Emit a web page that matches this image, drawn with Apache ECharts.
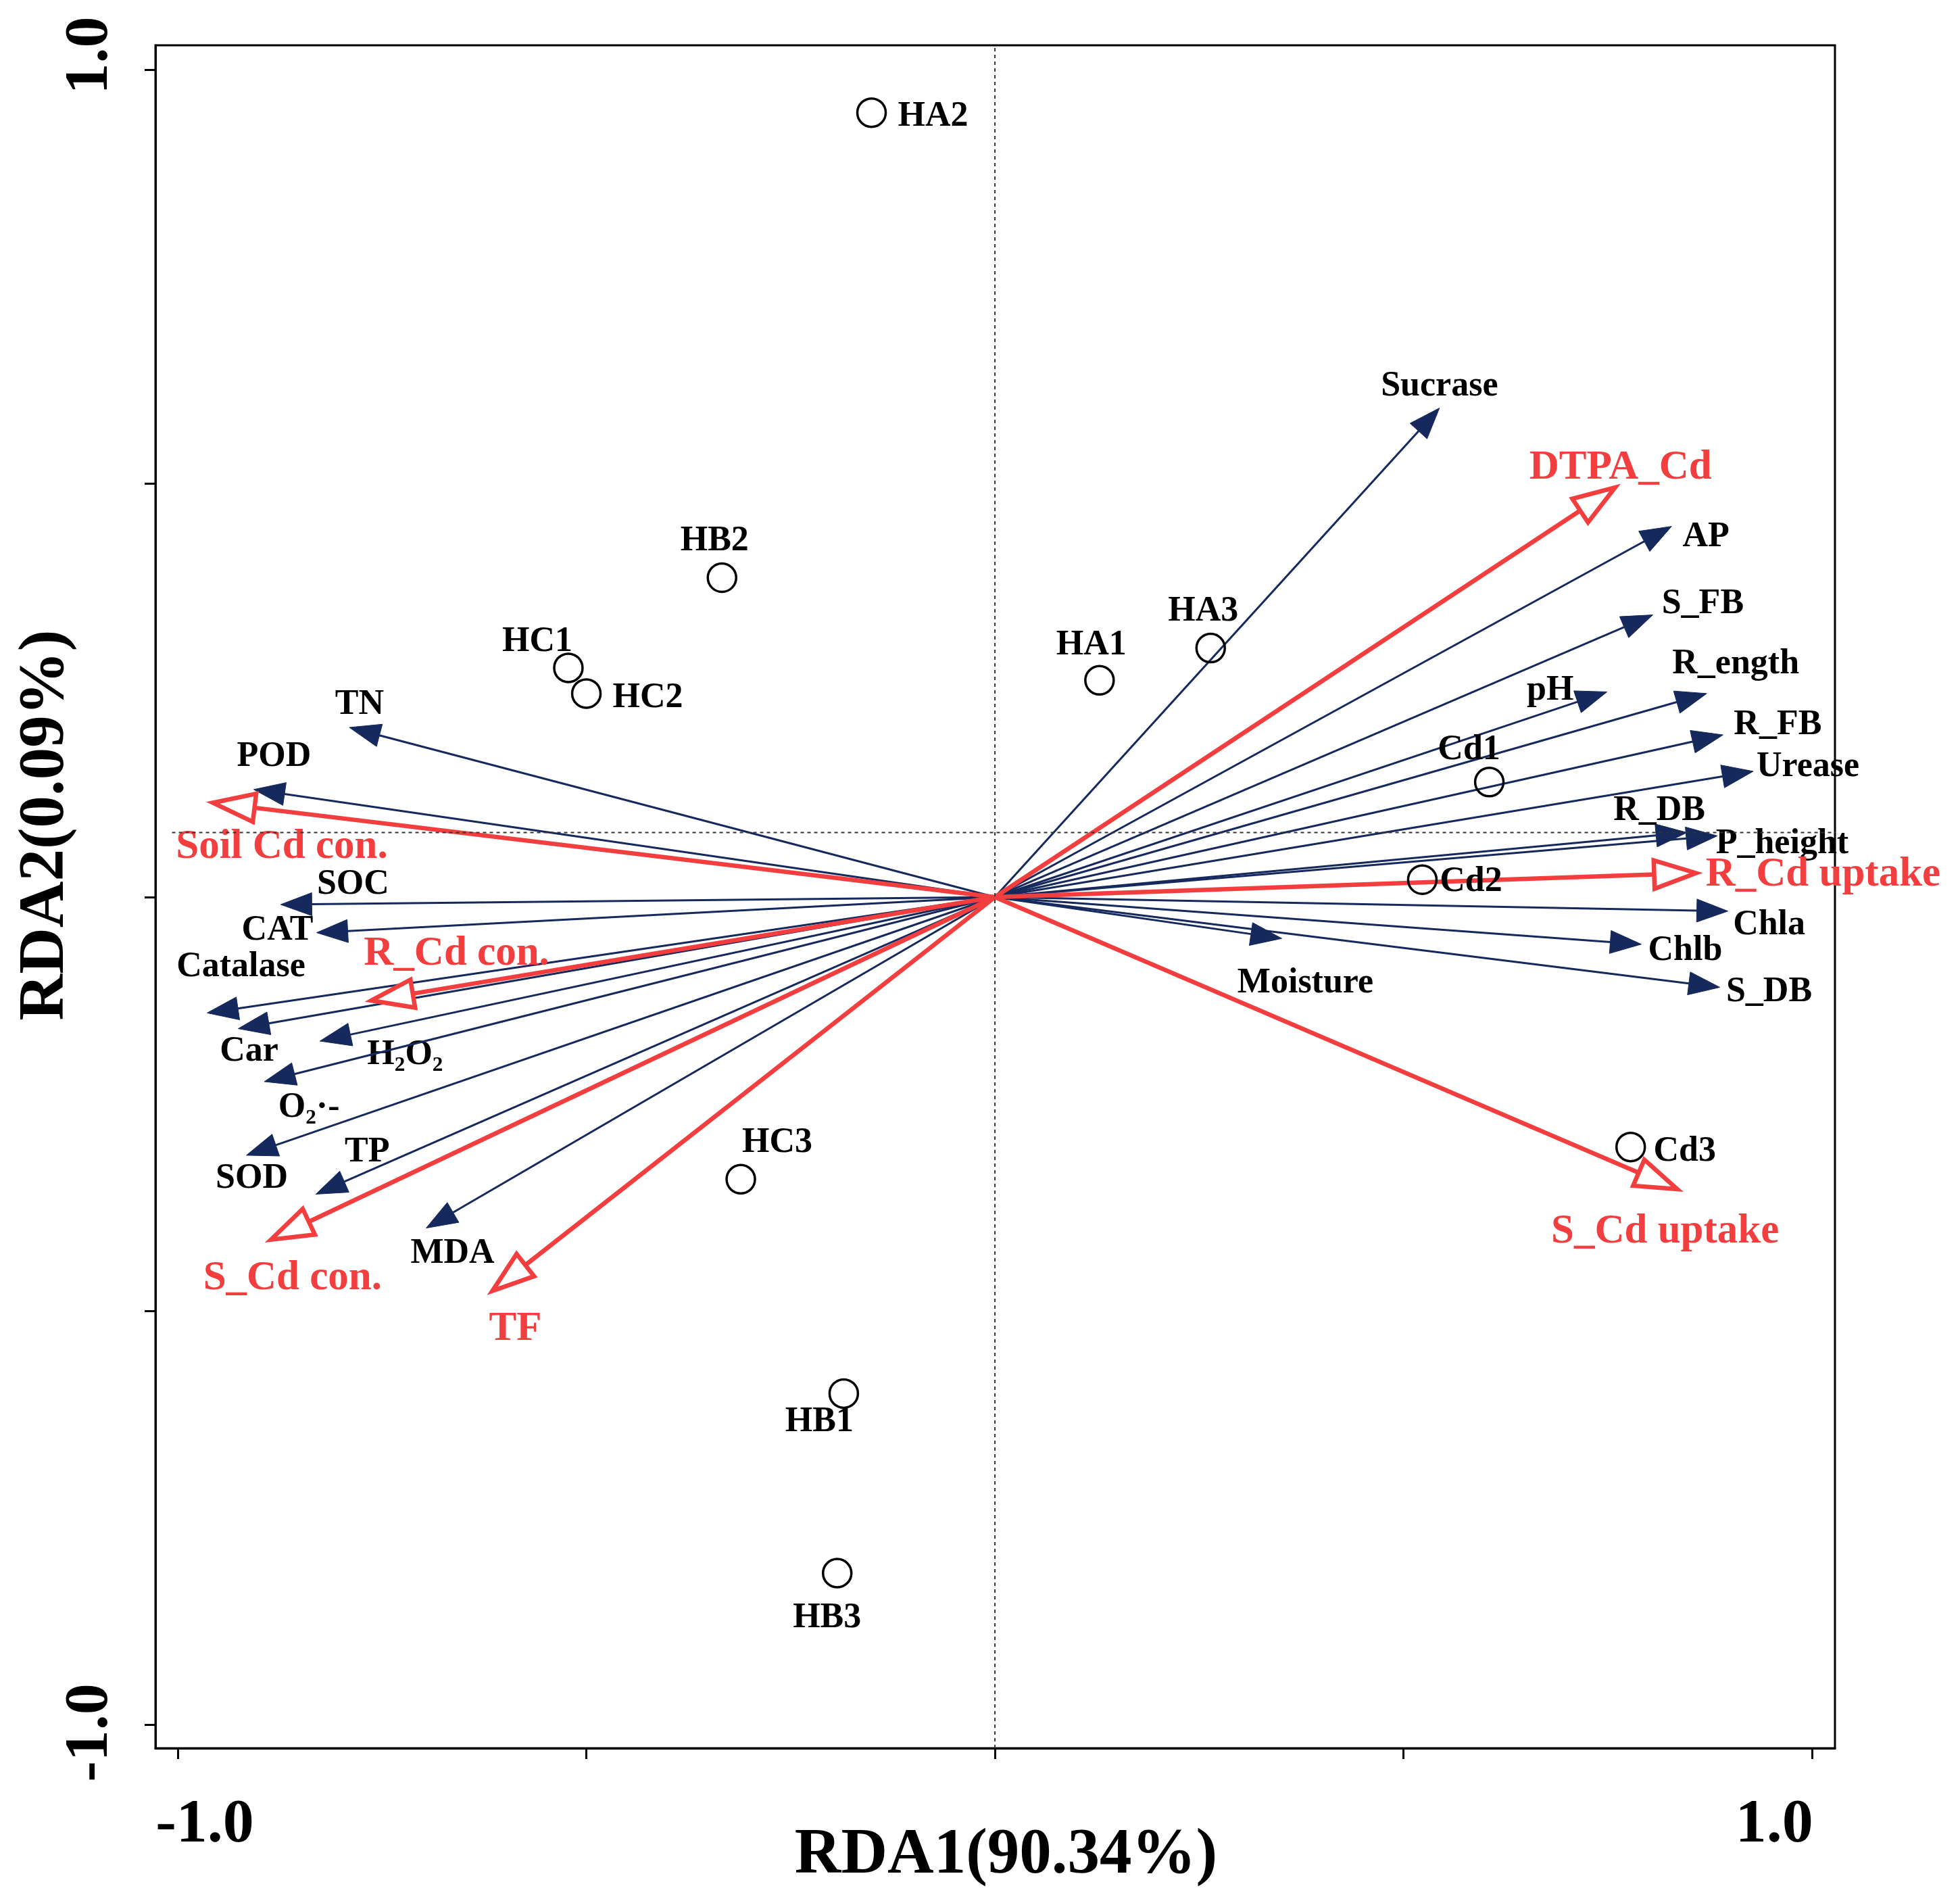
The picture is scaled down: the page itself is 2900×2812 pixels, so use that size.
<!DOCTYPE html>
<html>
<head>
<meta charset="utf-8">
<script src="https://cdn.jsdelivr.net/npm/echarts@6/dist/echarts.min.js"></script>
<style>
  html, body { margin: 0; padding: 0; background: #fff; }
  #chart { width: 2900px; height: 2812px; }
</style>
</head>
<body>
<div id="chart"></div>
<script>
// sites (open circles)
const siteNames = ['HA1', 'HA2', 'HA3', 'HB1', 'HB2', 'HB3', 'HC1', 'HC2', 'HC3', 'Cd1', 'Cd2', 'Cd3'];
const siteX = [0.128, -0.151, 0.264, -0.185, -0.334, -0.193, -0.522, -0.500, -0.311, 0.605, 0.523, 0.778];
const siteY = [0.262, 0.948, 0.301, -0.600, 0.386, -0.817, 0.277, 0.246, -0.341, 0.139, 0.021, -0.302];

// explanatory variables (blue arrows)
const envNames = ['Sucrase', 'AP', 'S_FB', 'pH', 'R_ength', 'R_FB', 'Urease', 'R_DB', 'P_height', 'Chla', 'Chlb', 'S_DB', 'Moisture',
  'TN', 'POD', 'SOC', 'CAT', 'Catalase', 'Car', 'H₂O₂', 'O₂·-', 'SOD', 'TP', 'MDA'];
const envX = [0.544, 0.828, 0.805, 0.749, 0.871, 0.891, 0.928, 0.847, 0.884, 0.897, 0.791, 0.887, 0.351,
  -0.790, -0.907, -0.874, -0.830, -0.964, -0.926, -0.826, -0.894, -0.916, -0.831, -0.696];
const envY = [0.591, 0.448, 0.341, 0.248, 0.246, 0.196, 0.152, 0.078, 0.074, -0.017, -0.057, -0.109, -0.050,
  0.205, 0.130, -0.009, -0.043, -0.140, -0.159, -0.174, -0.223, -0.312, -0.359, -0.400];

// Cd response variables (red arrows)
const cdNames = ['DTPA_Cd', 'R_Cd uptake', 'S_Cd uptake', 'Soil Cd con.', 'R_Cd con.', 'S_Cd con.', 'TF'];
const cdX = [0.759, 0.858, 0.835, -0.957, -0.763, -0.886, -0.615];
const cdY = [0.495, 0.029, -0.353, 0.114, -0.125, -0.414, -0.476];

// axis ticks
const tickValues = [-1, -0.5, 0, 0.5, 1];
const labelValues = [-1, 1];

// label placement (px from the point, text centre)
const siteOffset = {
  HA1: [-12, -52], HA2: [91, 6], HA3: [-11, -54], HB1: [-36, 42], HB2: [-11, -54], HB3: [-15, 67],
  HC1: [-46, -38], HC2: [91, 7], HC3: [54, -54], Cd1: [-30, -47], Cd2: [72, 3], Cd3: [80, 7]
};
const envOffset = {
  'Sucrase': [0, -32], 'AP': [51, 16], 'S_FB': [74, -16], 'pH': [-84, -2], 'R_ength': [43, -43],
  'R_FB': [81, -15], 'Urease': [81, -6], 'R_DB': [-41, -32], 'P_height': [96, 12], 'Chla': [61, 21],
  'Chlb': [65, 10], 'S_DB': [73, 7], 'Moisture': [35, 66], 'TN': [15, -34], 'POD': [30, -48],
  'SOC': [107, -29], 'CAT': [-58, -3], 'Catalase': [50, -68], 'Car': [16, 34], 'H₂O₂': [126, 21],
  'O₂·-': [66, 39], 'SOD': [8, 35], 'TP': [76, -62], 'MDA': [39, 38]
};
const cdOffset = {
  'DTPA_Cd': [8, -29], 'R_Cd uptake': [188, 3], 'S_Cd uptake': [-18, 63], 'Soil Cd con.': [102, 66],
  'R_Cd con.': [126, -69], 'S_Cd con.': [32, 58], 'TF': [34, 57]
};

const FONT = '"Liberation Serif", "Times New Roman", serif';
const BLUE = '#16295c';
const RED = '#f23e3e';
const xMin = -1.0273, xMax = 1.028, yMin = -1.0286, yMax = 1.0294;
const hLineY = 0.078;

// arrow from the origin to (x, y)
function arrowRenderer(names, offsets, opt) {
  return function (params, api) {
    const o = api.coord([0, 0]);
    const t = api.coord([api.value(0), api.value(1)]);
    const dx = t[0] - o[0], dy = t[1] - o[1];
    const len = Math.sqrt(dx * dx + dy * dy);
    const ux = dx / len, uy = dy / len;
    const bx = t[0] - ux * opt.headL, by = t[1] - uy * opt.headL;
    const px = -uy * opt.headW / 2, py = ux * opt.headW / 2;
    const name = names[params.dataIndex];
    const off = offsets[name] || [0, 0];
    return {
      type: 'group',
      children: [
        { type: 'line', shape: { x1: o[0], y1: o[1], x2: bx, y2: by },
          style: { stroke: opt.color, lineWidth: opt.width } },
        { type: 'polygon', shape: { points: [t, [bx + px, by + py], [bx - px, by - py]] },
          style: { fill: opt.hollow ? '#fff' : opt.color, stroke: opt.color,
                   lineWidth: opt.hollow ? opt.width : 1, lineJoin: 'miter' } },
        { type: 'text', x: t[0] + off[0], y: t[1] + off[1],
          style: { text: name, fill: opt.textColor, align: 'center', verticalAlign: 'middle',
                   fontFamily: FONT, fontWeight: 'bold', fontSize: opt.fontSize } }
      ]
    };
  };
}

// open circle with its name
function siteRenderer(params, api) {
  const c = api.coord([api.value(0), api.value(1)]);
  const name = siteNames[params.dataIndex];
  const off = siteOffset[name] || [0, 0];
  return {
    type: 'group',
    children: [
      { type: 'circle', shape: { cx: c[0], cy: c[1], r: 21 },
        style: { fill: 'none', stroke: '#000', lineWidth: 3.5 } },
      { type: 'text', x: c[0] + off[0], y: c[1] + off[1],
        style: { text: name, fill: '#000', align: 'center', verticalAlign: 'middle',
                 fontFamily: FONT, fontWeight: 'bold', fontSize: 52 } }
    ]
  };
}

const chart = echarts.init(document.getElementById('chart'));
//准备绘制图表所需数据
let options = {
  backgroundColor: '#fff',
  animation: false,
  grid: {
    left: 230, top: 67, right: 185, bottom: 226,
    outerBoundsMode: 'none', containLabel: false,
    show: true, borderColor: '#000', borderWidth: 3
  },
  xAxis: {
    type: 'value', min: xMin, max: xMax,
    name: 'RDA1(90.34%)', nameLocation: 'middle', nameGap: 112, nameMoveOverlap: false,
    nameTextStyle: { fontFamily: FONT, fontWeight: 'bold', fontSize: 95, color: '#000', padding: [0, 0, 0, 32] },
    splitLine: { show: false },
    axisLine: { onZero: false, lineStyle: { color: '#000', width: 3 } },
    axisTick: { customValues: tickValues, length: 16, lineStyle: { color: '#000', width: 3 } },
    axisLabel: {
      customValues: labelValues, margin: 68,
      formatter: v => v < 0 ? '{l|-1.0}' : '{r|1.0}',
      rich: {
        l: { fontFamily: FONT, fontWeight: 'bold', fontSize: 92, color: '#000', padding: [0, 0, 0, 80] },
        r: { fontFamily: FONT, fontWeight: 'bold', fontSize: 92, color: '#000', padding: [0, 112, 0, 0] }
      }
    }
  },
  yAxis: {
    type: 'value', min: yMin, max: yMax,
    name: 'RDA2(0.09%)', nameLocation: 'middle', nameGap: 114, nameMoveOverlap: false,
    nameTextStyle: { fontFamily: FONT, fontWeight: 'bold', fontSize: 95, color: '#000', padding: [0, 0, 0, 212] },
    splitLine: { show: false },
    axisLine: { onZero: false, lineStyle: { color: '#000', width: 3 } },
    axisTick: { customValues: tickValues, length: 16, lineStyle: { color: '#000', width: 3 } },
    axisLabel: {
      customValues: labelValues, rotate: 90, margin: 50,
      formatter: v => v < 0 ? '{b|-1.0}' : '{t|1.0}',
      rich: {
        t: { fontFamily: FONT, fontWeight: 'bold', fontSize: 92, color: '#000', padding: [0, 0, 0, 42] },
        b: { fontFamily: FONT, fontWeight: 'bold', fontSize: 92, color: '#000', padding: [0, 24, 0, 0] }
      }
    }
  },
  series: [
    {
      type: 'line', data: [[0, yMin], [0, yMax]], symbol: 'none', silent: true,
      lineStyle: { color: '#333', width: 2, type: [5, 5] }
    },
    {
      type: 'line', data: [[-1.007, hLineY], [1.053, hLineY]], symbol: 'none', silent: true, clip: false,
      lineStyle: { color: '#333', width: 2, type: [5, 5] }
    },
    {
      type: 'custom', name: 'env',
      data: envX.map((x, i) => [x, envY[i]]),
      renderItem: arrowRenderer(envNames, envOffset,
        { color: BLUE, width: 3, headL: 46, headW: 34, hollow: false, textColor: '#000', fontSize: 52 })
    },
    {
      type: 'custom', name: 'cd',
      data: cdX.map((x, i) => [x, cdY[i]]),
      renderItem: arrowRenderer(cdNames, cdOffset,
        { color: RED, width: 6.5, headL: 62, headW: 42, hollow: true, textColor: RED, fontSize: 61 })
    },
    {
      type: 'custom', name: 'sites',
      data: siteX.map((x, i) => [x, siteY[i]]),
      renderItem: siteRenderer
    }
  ]
};
//渲染图表
chart.setOption(options);
</script>
</body>
</html>
